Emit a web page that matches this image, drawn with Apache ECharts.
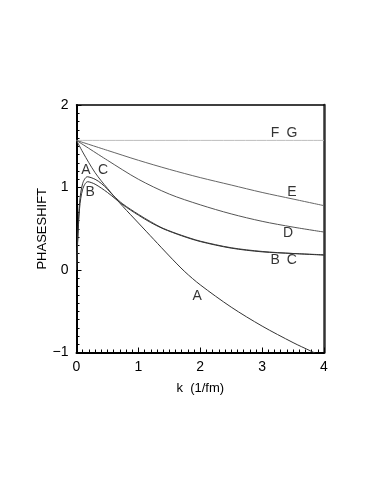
<!DOCTYPE html>
<html>
<head>
<meta charset="utf-8">
<script src="https://cdn.jsdelivr.net/npm/echarts@6/dist/echarts.min.js"></script>
<style>
html, body { margin: 0; padding: 0; background: #fff; }
#main { width: 382px; height: 494px; }
</style>
</head>
<body>
<div id="main"></div>
<script>
// k in 1/fm, phase shift in rad
var curveA = [[0,0],[0.02,0.4],[0.05,0.82],[0.1,1.05],[0.175,1.13],[0.3,1.1],[0.4,1.05],[0.5,0.98],[0.75,0.77],[1.0,0.57],[1.25,0.37],[1.5,0.17],[1.75,-0.02],[2.0,-0.18],[2.5,-0.45],[3.0,-0.68],[3.5,-0.88],[3.78,-0.98],[4.0,-1.06]];
var curveB = [[0,0],[0.02,0.35],[0.05,0.75],[0.1,0.98],[0.18,1.07],[0.3,1.04],[0.5,0.94],[0.75,0.79],[1.0,0.665],[1.2,0.575],[1.4,0.5],[1.7,0.415],[2.0,0.345],[2.5,0.265],[3.0,0.22],[3.5,0.2],[4.0,0.18]];
var curveC = [[0,1.571],[0.1,1.43],[0.2,1.3],[0.3,1.18],[0.4,1.08],[0.5,0.99],[0.6,0.9],[0.75,0.8],[1.0,0.675],[1.2,0.585],[1.4,0.505],[1.7,0.42],[2.0,0.35],[2.5,0.27],[3.0,0.225],[3.5,0.2],[4.0,0.185]];
var curveD = [[0,1.571],[0.5,1.33],[1.0,1.1],[1.5,0.92],[2.0,0.79],[2.5,0.68],[3.0,0.59],[3.5,0.52],[4.0,0.46]];
var curveE = [[0,1.571],[0.5,1.45],[1.0,1.33],[1.5,1.22],[2.0,1.12],[2.5,1.03],[3.0,0.94],[3.5,0.86],[4.0,0.78]];
var curveFG = [[0,1.571],[4,1.571]];

var curveLabels = [
    {name:'A', value:[0.153,1.21]},
    {name:'C', value:[0.43,1.21]},
    {name:'B', value:[0.22,0.945]},
    {name:'F', value:[3.21,1.66]},
    {name:'G', value:[3.48,1.66]},
    {name:'E', value:[3.48,0.945]},
    {name:'D', value:[3.42,0.45]},
    {name:'B', value:[3.21,0.12]},
    {name:'C', value:[3.48,0.12]},
    {name:'A', value:[1.95,-0.315]}
];

var font = 'Liberation Sans, Arial, sans-serif';

function curve(data, color) {
    return {
        type: 'line',
        data: data,
        smooth: 0.3,
        showSymbol: false,
        lineStyle: { color: color, width: 1 },
        silent: true
    };
}

var chart = echarts.init(document.getElementById('main'));
var option = {
    animation: false,
    grid: { left: 76.5, top: 105, right: 58, bottom: 141.5 },
    xAxis: [
        {
            type: 'value', min: 0, max: 4, interval: 1,
            name: 'k  (1/fm)', nameLocation: 'middle', nameGap: 29,
            nameTextStyle: { fontFamily: font, fontSize: 13, color: '#000' },
            axisLine: { onZero: false, lineStyle: { color: '#000', width: 2 } },
            axisTick: { inside: true, length: 5, lineStyle: { color: '#000' } },
            minorTick: { show: true, splitNumber: 10, length: 3, lineStyle: { color: '#000' } },
            axisLabel: { fontFamily: font, fontSize: 14, color: '#000', margin: 8 },
            splitLine: { show: false }
        },
        {
            type: 'value', min: 0, max: 4, position: 'top',
            axisLine: { onZero: false, lineStyle: { color: '#000', width: 1.5 } },
            axisTick: { show: false }, axisLabel: { show: false }, splitLine: { show: false }
        }
    ],
    yAxis: [
        {
            type: 'value', min: -1, max: 2, interval: 1,
            name: 'PHASESHIFT', nameLocation: 'middle', nameGap: 28, nameMoveOverlap: false,
            nameTextStyle: { fontFamily: font, fontSize: 13, color: '#000' },
            axisLine: { show: true, onZero: false, lineStyle: { color: '#000', width: 2 } },
            axisTick: { show: true, inside: true, length: 5, lineStyle: { color: '#000' } },
            minorTick: { show: true, splitNumber: 10, length: 3, lineStyle: { color: '#000' } },
            axisLabel: { fontFamily: font, fontSize: 14, color: '#000', margin: 8,
                formatter: function (v) { return v < 0 ? '\u2212' + Math.abs(v) : String(v); } },
            splitLine: { show: false }
        },
        {
            type: 'value', min: -1, max: 2, position: 'right',
            axisLine: { show: true, onZero: false, lineStyle: { color: '#333', width: 2.5 } },
            axisTick: { show: false }, axisLabel: { show: false }, splitLine: { show: false }
        }
    ],
    series: [
        curve(curveFG, '#bdbdbd'),
        curve(curveE, '#666'),
        curve(curveD, '#555'),
        curve(curveC, '#444'),
        curve(curveB, '#333'),
        curve(curveA, '#333'),
        {
            type: 'scatter',
            data: curveLabels,
            symbolSize: 2,
            itemStyle: { color: 'rgba(0,0,0,0)' },
            silent: true,
            z: 5,
            label: {
                show: true, position: 'inside', formatter: '{b}',
                fontFamily: font, fontSize: 14, color: '#000'
            }
        }
    ]
};
chart.setOption(option);
</script>
</body>
</html>
